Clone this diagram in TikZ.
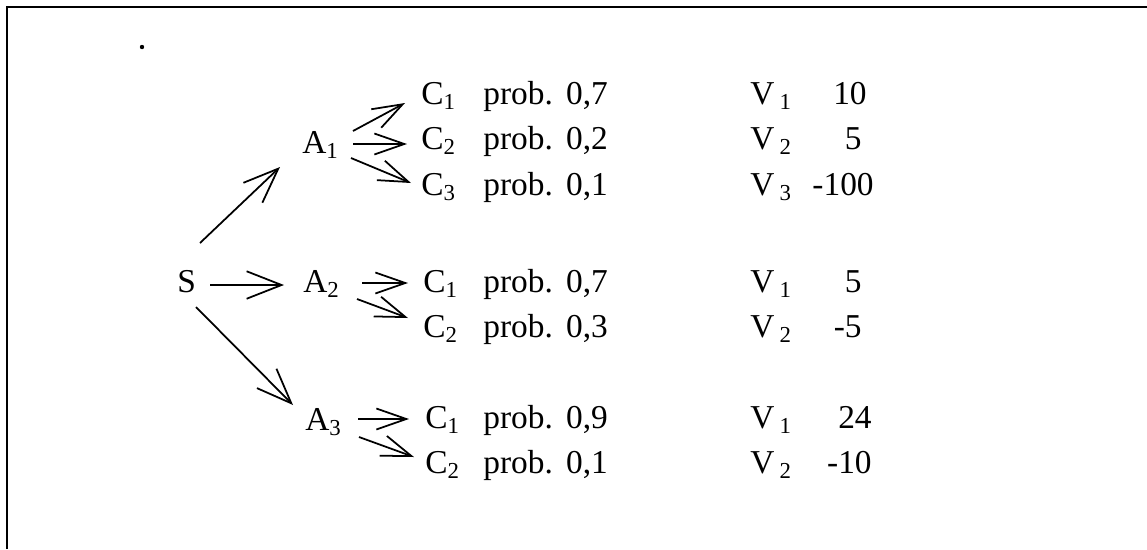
\documentclass[tikz,border=0pt]{standalone}
\usepackage{fontspec}
\setmainfont{Liberation Serif}
\usetikzlibrary{arrows.meta}
\newcommand{\idx}[1]{\raisebox{-3.2pt}{\fontsize{13pt}{13pt}\selectfont #1}}

\begin{document}
\begin{tikzpicture}[x=0.02cm, y=-0.02cm,
  lbl/.style={inner sep=0pt, anchor=base west, font=\fontsize{19pt}{22pt}\selectfont},
  val/.style={lbl, anchor=base east},
  bigarrow/.style={-{Straight Barb[length=0.7cm, width=0.55cm]}, line width=1pt},
  arrow/.style={-{Straight Barb[length=0.6cm, width=0.42cm]}, line width=1pt},
  frame/.style={line width=1.6pt}
]
\useasboundingbox (0,0) rectangle (1147,549);

% frame
\draw [frame] (7,549) -- (7,7) -- (1147,7);
\fill (142,47) circle (2.2);

% start and actions
\node (s) [lbl] at (177,292) {S};
\node (a1) [lbl] at (302,153) {A\idx{1}};
\node (a2) [lbl] at (303,292) {A\idx{2}};
\node (a3) [lbl] at (305,430) {A\idx{3}};

% consequences of A1
\node (c11) [lbl] at (421,104) {C\idx{1}};
\node (c12) [lbl] at (421,149) {C\idx{2}};
\node (c13) [lbl] at (421,195) {C\idx{3}};
\node (p11) [lbl] at (483,104) {prob.\hspace{0.4em}0,7};
\node (p12) [lbl] at (483,149) {prob.\hspace{0.4em}0,2};
\node (p13) [lbl] at (483,195) {prob.\hspace{0.4em}0,1};
\node (v11) [lbl] at (750,104) {V\kern3pt\idx{1}};
\node (v12) [lbl] at (750,149) {V\kern3pt\idx{2}};
\node (v13) [lbl] at (750,195) {V\kern3pt\idx{3}};
\node (n11) [val] at (867,104) {10};
\node (n12) [val] at (862,149) {5};
\node (n13) [val] at (874,195) {-100};

% consequences of A2
\node (c21) [lbl] at (423,292) {C\idx{1}};
\node (c22) [lbl] at (423,337) {C\idx{2}};
\node (p21) [lbl] at (483,292) {prob.\hspace{0.4em}0,7};
\node (p22) [lbl] at (483,337) {prob.\hspace{0.4em}0,3};
\node (v21) [lbl] at (750,292) {V\kern3pt\idx{1}};
\node (v22) [lbl] at (750,337) {V\kern3pt\idx{2}};
\node (n21) [val] at (862,292) {5};
\node (n22) [val] at (862,337) {-5};

% consequences of A3
\node (c31) [lbl] at (425,428) {C\idx{1}};
\node (c32) [lbl] at (425,473) {C\idx{2}};
\node (p31) [lbl] at (483,428) {prob.\hspace{0.4em}0,9};
\node (p32) [lbl] at (483,473) {prob.\hspace{0.4em}0,1};
\node (v31) [lbl] at (750,428) {V\kern3pt\idx{1}};
\node (v32) [lbl] at (750,473) {V\kern3pt\idx{2}};
\node (n31) [val] at (872,428) {24};
\node (n32) [val] at (872,473) {-10};

% arrows
\draw [bigarrow] ([shift={(23,-49)}]s.base west) -- ([shift={(-22,14)}]a1.base west);
\draw [bigarrow] ([shift={(33,-7)}]s.base west) -- ([shift={(-19,-7)}]a2.base west);
\draw [bigarrow] ([shift={(19,15)}]s.base west) -- ([shift={(-12,-25)}]a3.base west);
\draw [arrow] ([shift={(51,-22)}]a1.base west) -- ([shift={(-16,-1)}]c11.base west);
\draw [arrow] ([shift={(51,-9)}]a1.base west) -- ([shift={(-14,-5)}]c12.base west);
\draw [arrow] ([shift={(49,5)}]a1.base west) -- ([shift={(-10,-12)}]c13.base west);
\draw [arrow] ([shift={(59,-9)}]a2.base west) -- ([shift={(-15,-9)}]c21.base west);
\draw [arrow] ([shift={(54,7)}]a2.base west) -- ([shift={(-15,-19)}]c22.base west);
\draw [arrow] ([shift={(53,-11)}]a3.base west) -- ([shift={(-16,-9)}]c31.base west);
\draw [arrow] ([shift={(54,7)}]a3.base west) -- ([shift={(-11,-16)}]c32.base west);

\end{tikzpicture}
\end{document}
